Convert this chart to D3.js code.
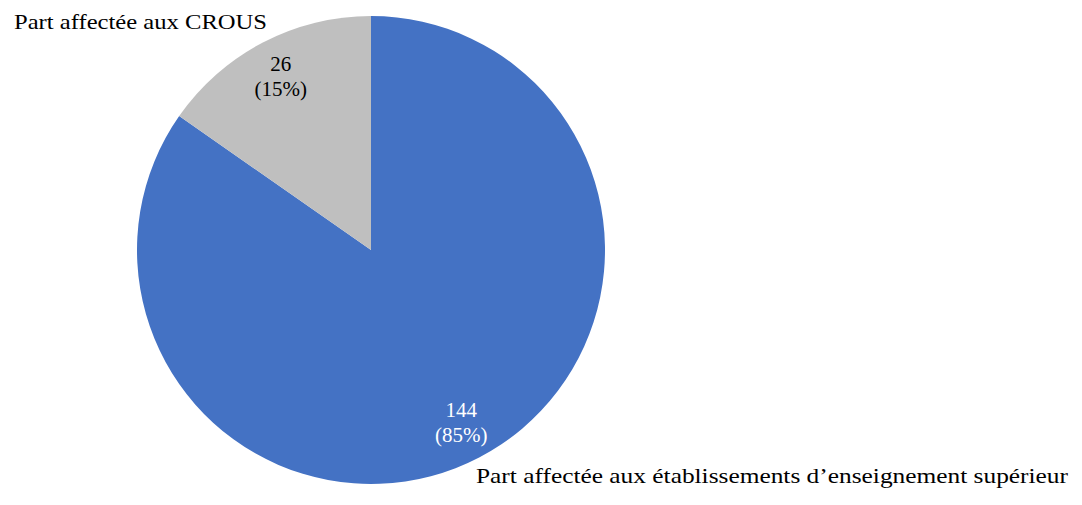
<!DOCTYPE html>
<html>
<head>
<meta charset="utf-8">
<script src="https://cdn.jsdelivr.net/npm/d3@7"></script>
<style>
  body { margin: 0; background: #fff; }
  text { font-family: "Palatino Linotype", "Book Antiqua", Palatino, "Liberation Serif", serif; font-size: 21px; }
</style>
</head>
<body>
<svg width="1082" height="505"></svg>
<script>
var labels = ["Part affectée aux établissements d\u2019enseignement supérieur", "Part affectée aux CROUS"];
var values = [144, 26];
var percents = ["85%", "15%"];
var colors = ["#4472C4", "#BFBFBF"];

var svg = d3.select("svg"),
    cx = 371, cy = 250, radius = 234;

var g = svg.append("g").attr("transform", "translate(" + cx + "," + cy + ")");

var pie = d3.pie().sort(null).value(function(d) { return d; });
var arc = d3.arc().innerRadius(0).outerRadius(radius);
var arcs = pie(values);

g.selectAll("path")
  .data(arcs)
  .enter().append("path")
    .attr("d", arc)
    .attr("fill", function(d, i) { return colors[i]; });

// value labels inside slices
var inner = d3.arc().innerRadius(radius * 0.835).outerRadius(radius * 0.835);
var valLab = g.selectAll(".val")
  .data(arcs)
  .enter().append("text")
    .attr("class", "val")
    .attr("text-anchor", "middle")
    .attr("fill", function(d, i) { return i == 0 ? "#fff" : "#000"; })
    .attr("transform", function(d, i) {
      var c = inner.centroid(d);
      return "translate(" + c[0] + "," + (c[1] - 6) + ")";
    });
valLab.append("tspan").attr("x", 0).attr("dy", "0em").text(function(d) { return d.data; });
valLab.append("tspan").attr("x", 0).attr("dy", 25).text(function(d, i) { return "(" + percents[i] + ")"; });

// category labels outside
svg.append("text").attr("x", 476).attr("y", 483).attr("textLength", 592).attr("lengthAdjust", "spacingAndGlyphs").text(labels[0]);
svg.append("text").attr("x", 14).attr("y", 29).attr("textLength", 253).attr("lengthAdjust", "spacingAndGlyphs").text(labels[1]);
</script>
</body>
</html>
